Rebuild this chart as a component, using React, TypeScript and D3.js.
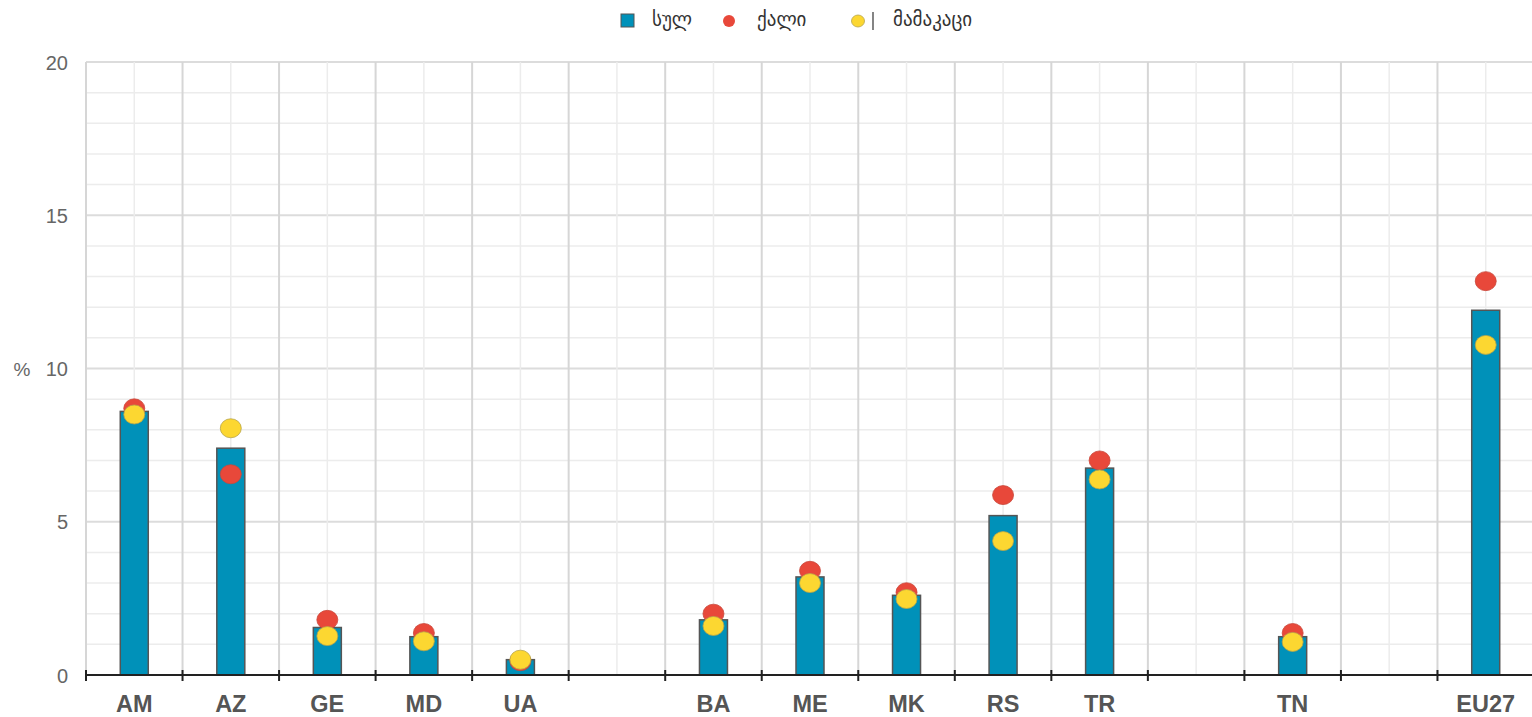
import React from "react";
import * as d3 from "d3";

const categories = ["AM", "AZ", "GE", "MD", "UA", "", "BA", "ME", "MK", "RS", "TR", "", "TN", "", "EU27"];
const totalValues: (number | null)[] = [8.6, 7.4, 1.55, 1.25, 0.5, null, 1.8, 3.2, 2.6, 5.2, 6.75, null, 1.25, null, 11.9];
const womenValues: (number | null)[] = [8.7, 6.55, 1.8, 1.37, 0.45, null, 2.0, 3.4, 2.7, 5.87, 7.0, null, 1.37, null, 12.85];
const menValues: (number | null)[] = [8.5, 8.05, 1.27, 1.1, 0.5, null, 1.6, 3.0, 2.48, 4.37, 6.38, null, 1.08, null, 10.77];
const yTicks = [0, 5, 10, 15, 20];
const legendLabels = ["სულ", "ქალი", "მამაკაცი"];

const W = 1532;
const H = 717;
const left = 86;
const right = 1534;
const top = 62;
const bottom = 675;

export default function App() {
  const x = d3.scaleBand<number>().domain(d3.range(categories.length)).range([left, right]).padding(0);
  const y = d3.scaleLinear().domain([0, 20]).range([bottom, top]);
  const bw = x.bandwidth();
  const barW = 28;
  const minorY = d3.range(0, 21, 1);
  const font = "Arial, 'Liberation Sans', 'DejaVu Sans', sans-serif";
  const geoFont = "'DejaVu Sans', 'Noto Sans', sans-serif";

  return (
    <svg width={W} height={H} style={{ position: "absolute", left: 0, top: 0, display: "block", overflow: "hidden" }}>
      <rect x={0} y={0} width={W} height={H} fill="#fff" />
      {/* horizontal grid */}
      {minorY.map((v) => (
        <line key={"h" + v} x1={left} x2={W} y1={y(v)} y2={y(v)} stroke={v % 5 === 0 ? "#dcdcdc" : "#ececec"} strokeWidth={v % 5 === 0 ? 2 : 1.5} />
      ))}
      {/* vertical minor grid at centers */}
      {categories.map((_, i) => (
        <line key={"vc" + i} x1={x(i)! + bw / 2} x2={x(i)! + bw / 2} y1={top} y2={bottom} stroke="#ececec" strokeWidth={1.5} />
      ))}
      {/* vertical major grid at boundaries */}
      {d3.range(categories.length + 1).map((i) => {
        const xx = left + i * bw;
        return <line key={"vb" + i} x1={xx} x2={xx} y1={top} y2={bottom} stroke="#d6d6d6" strokeWidth={2} />;
      })}
      {/* bars */}
      {totalValues.map((v, i) =>
        v == null ? null : (
          <rect key={"b" + i} x={x(i)! + bw / 2 - barW / 2} y={y(v)} width={barW} height={y(0) - y(v)} fill="#0091b9" stroke="#555" strokeWidth={1.5} />
        )
      )}
      {/* women dots */}
      {womenValues.map((v, i) =>
        v == null ? null : (
          <ellipse key={"w" + i} cx={x(i)! + bw / 2} cy={y(v)} rx={10.5} ry={9.5} fill="#e8483a" stroke="#c9473b" strokeWidth={0.8} />
        )
      )}
      {/* men dots */}
      {menValues.map((v, i) =>
        v == null ? null : (
          <ellipse key={"m" + i} cx={x(i)! + bw / 2} cy={y(v)} rx={10.5} ry={9.5} fill="#fcd731" stroke="#b8a44a" strokeWidth={0.8} />
        )
      )}
      {/* x axis */}
      <line x1={left} x2={W} y1={bottom} y2={bottom} stroke="#222" strokeWidth={2} />
      {d3.range(categories.length + 1).map((i) => {
        const xx = left + i * bw;
        return <line key={"t" + i} x1={xx} x2={xx} y1={bottom - 5} y2={bottom + 6} stroke="#222" strokeWidth={2} />;
      })}
      {categories.map((c, i) => (
        <text key={"xl" + i} x={x(i)! + bw / 2} y={712} textAnchor="middle" fontFamily={font} fontWeight="bold" fontSize={23.5} fill="#555">
          {c}
        </text>
      ))}
      {/* y labels */}
      {yTicks.map((t) => (
        <text key={"yl" + t} x={68} y={y(t) + 7.5} textAnchor="end" fontFamily={font} fontSize={20} fill="#666">
          {t}
        </text>
      ))}
      <text x={22} y={376} textAnchor="middle" fontFamily={font} fontSize={19} fill="#666">%</text>
      {/* legend */}
      <rect x={621} y={14} width={13} height={13} fill="#0091b9" stroke="#555" strokeWidth={1} />
      <text x={652} y={26} fontFamily={geoFont} fontSize={19} fill="#333">{legendLabels[0]}</text>
      <ellipse cx={729} cy={21} rx={6} ry={6} fill="#e8483a" />
      <text x={757} y={26} fontFamily={geoFont} fontSize={19} fill="#333">{legendLabels[1]}</text>
      <ellipse cx={858} cy={21} rx={6.5} ry={6} fill="#fcd731" stroke="#b8a44a" strokeWidth={0.8} />
      <line x1={873} x2={873} y1={12} y2={30} stroke="#333" strokeWidth={1.2} />
      <text x={893} y={26} fontFamily={geoFont} fontSize={19} fill="#333">{legendLabels[2]}</text>
    </svg>
  );
}
